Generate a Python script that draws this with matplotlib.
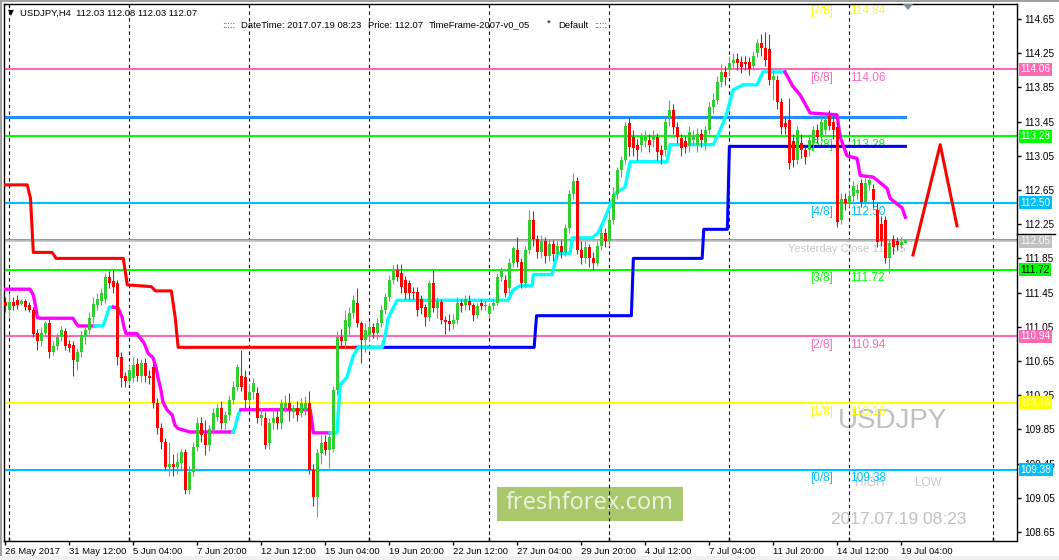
import numpy as np
import matplotlib.pyplot as plt
import matplotlib.transforms as mtransforms
from matplotlib.patches import Rectangle, Polygon

plt.rcParams['font.family'] = ['Liberation Sans', 'DejaVu Sans']

# ## Chart data: USDJPY H4, bar index 5 = 26 May 2017 20:00, bar 230 = 19 Jul 08:00
first_bar = 5

opens = [
    111.34, 111.25, 111.34, 111.36, 111.32, 111.35, 111.31, 111.25, 110.98, 110.88,
    110.98, 111.10, 110.76, 110.82, 110.93, 111.00, 110.85, 110.84, 110.64, 110.76,
    110.93, 111.01, 111.16, 111.31, 111.35, 111.38, 111.63, 111.58, 111.56, 110.70,
    110.47, 110.42, 110.45, 110.62, 110.47, 110.63, 110.48, 110.58, 110.16, 109.87,
    109.70, 109.41, 109.45, 109.41, 109.46, 109.58, 109.14, 109.35, 109.64, 109.92,
    109.80, 109.67, 109.84, 110.00, 110.10, 109.92, 110.02, 110.19, 110.35, 110.47,
    110.46, 110.19, 110.29, 110.27, 109.98, 109.98, 109.69, 109.92, 110.00, 109.92,
    110.10, 110.16, 110.05, 110.10, 110.04, 110.08, 110.16, 109.38, 109.06, 109.57,
    109.70, 109.61, 109.62, 110.31, 110.93, 110.88, 111.05, 111.21, 111.33, 111.09,
    110.90, 110.95, 111.05, 110.98, 111.10, 111.25, 111.40, 111.60, 111.71, 111.68,
    111.60, 111.56, 111.46, 111.46, 111.38, 111.28, 111.16, 111.56, 111.27, 111.34,
    111.13, 111.12, 111.08, 111.13, 111.33, 111.31, 111.35, 111.30, 111.19, 111.33,
    111.29, 111.20, 111.29, 111.33, 111.63, 111.60, 111.50, 111.80, 111.95, 111.81,
    111.56, 111.95, 112.30, 112.08, 111.92, 112.05, 111.88, 112.02, 111.90, 112.00,
    111.92, 112.20, 112.60, 112.75, 111.95, 111.85, 111.98, 111.85, 111.80, 112.00,
    112.15, 112.05, 112.30, 112.60, 112.88, 113.00, 113.43, 113.27, 113.18, 113.18,
    113.22, 113.23, 113.23, 113.27, 113.12, 113.12, 113.50, 113.59, 113.39, 113.26,
    113.22, 113.17, 113.24, 113.18, 113.30, 113.20, 113.35, 113.62, 113.70, 113.91,
    114.03, 114.05, 114.14, 114.18, 114.15, 114.15, 114.15, 114.10, 114.25, 114.37,
    114.31, 114.30, 113.94, 113.94, 113.68, 113.43, 113.47, 113.22, 113.00, 113.20,
    113.12, 113.12, 113.20, 113.35, 113.29, 113.35, 113.52, 113.45, 113.39, 112.30,
    112.55, 112.50, 112.58, 112.62, 112.73, 112.51, 112.71, 112.66, 112.42, 112.25,
    112.30, 111.85, 112.08, 112.05, 112.01, 112.03]
highs = [
    111.40, 111.44, 111.40, 111.42, 111.37, 111.38, 111.34, 111.28, 111.02, 111.05,
    111.12, 111.14, 110.88, 110.98, 111.06, 111.04, 110.90, 110.88, 110.80, 111.00,
    111.05, 111.22, 111.40, 111.45, 111.50, 111.68, 111.70, 111.71, 111.60, 110.75,
    110.52, 110.60, 110.70, 110.68, 110.67, 110.68, 110.55, 110.62, 110.22, 109.92,
    109.75, 109.70, 109.56, 109.58, 109.62, 109.62, 109.42, 109.70, 110.00, 110.00,
    109.96, 109.90, 110.10, 110.15, 110.18, 110.06, 110.25, 110.42, 110.62, 110.78,
    110.55, 110.38, 110.45, 110.35, 110.10, 110.05, 109.98, 110.10, 110.10, 110.20,
    110.25, 110.28, 110.14, 110.18, 110.22, 110.24, 110.30, 109.45, 109.62, 109.78,
    109.78, 109.82, 110.36, 111.00, 111.02, 111.25, 111.28, 111.42, 111.50, 111.12,
    111.10, 111.12, 111.10, 111.15, 111.30, 111.45, 111.65, 111.77, 111.78, 111.79,
    111.64, 111.60, 111.52, 111.52, 111.42, 111.32, 111.60, 111.71, 111.40, 111.38,
    111.18, 111.20, 111.20, 111.40, 111.38, 111.42, 111.42, 111.33, 111.33, 111.38,
    111.35, 111.33, 111.38, 111.68, 111.75, 111.65, 111.85, 112.00, 112.10, 111.85,
    112.00, 112.42, 112.40, 112.12, 112.12, 112.10, 112.08, 112.06, 112.05, 112.06,
    112.25, 112.65, 112.85, 112.80, 112.05, 112.05, 112.02, 111.92, 112.05, 112.22,
    112.20, 112.40, 112.68, 112.92, 113.05, 113.45, 113.50, 113.35, 113.25, 113.32,
    113.35, 113.30, 113.35, 113.32, 113.18, 113.50, 113.70, 113.65, 113.45, 113.30,
    113.28, 113.40, 113.35, 113.38, 113.36, 113.40, 113.68, 113.78, 113.98, 114.12,
    114.10, 114.22, 114.25, 114.25, 114.22, 114.22, 114.20, 114.28, 114.42, 114.47,
    114.50, 114.48, 114.05, 114.00, 113.72, 113.50, 113.72, 113.30, 113.40, 113.30,
    113.18, 113.30, 113.40, 113.42, 113.50, 113.52, 113.58, 113.52, 113.45, 112.62,
    112.62, 112.65, 112.76, 112.72, 112.78, 112.80, 112.83, 112.72, 112.50, 112.35,
    112.35, 112.08, 112.12, 112.10, 112.10, 112.08]
lows = [
    111.22, 111.16, 111.25, 111.26, 111.30, 111.25, 111.22, 110.93, 110.78, 110.83,
    110.95, 110.68, 110.72, 110.78, 110.88, 110.78, 110.76, 110.47, 110.55, 110.70,
    110.85, 110.97, 111.10, 111.25, 111.30, 111.33, 111.50, 111.45, 110.60, 110.35,
    110.35, 110.38, 110.40, 110.42, 110.40, 110.40, 110.38, 110.10, 109.80, 109.62,
    109.38, 109.30, 109.30, 109.33, 109.38, 109.10, 109.10, 109.30, 109.60, 109.70,
    109.55, 109.60, 109.80, 109.95, 109.85, 109.85, 109.96, 110.15, 110.30, 110.30,
    110.10, 110.12, 110.20, 109.92, 109.90, 109.62, 109.62, 109.85, 109.85, 109.85,
    110.05, 109.95, 109.98, 109.95, 110.00, 110.02, 109.33, 108.95, 108.82, 109.45,
    109.55, 109.40, 109.58, 110.25, 110.80, 110.80, 110.95, 111.15, 111.05, 110.63,
    110.75, 110.88, 110.92, 110.90, 111.05, 111.20, 111.35, 111.55, 111.58, 111.45,
    111.38, 111.38, 111.38, 111.18, 111.20, 111.06, 111.12, 111.22, 111.15, 111.08,
    110.96, 111.00, 111.02, 111.08, 111.22, 111.25, 111.25, 111.12, 111.15, 111.25,
    111.25, 111.15, 111.25, 111.30, 111.58, 111.40, 111.45, 111.75, 111.75, 111.50,
    111.52, 111.90, 112.00, 111.85, 111.85, 111.80, 111.82, 111.82, 111.84, 111.85,
    111.88, 112.15, 112.55, 111.90, 111.78, 111.80, 111.75, 111.72, 111.76, 111.95,
    111.98, 112.00, 112.25, 112.55, 112.80, 112.95, 113.05, 113.05, 113.00, 113.10,
    113.15, 113.10, 113.15, 113.00, 112.95, 113.05, 113.40, 113.30, 113.20, 113.05,
    113.08, 113.10, 113.18, 113.10, 113.15, 113.12, 113.30, 113.55, 113.65, 113.85,
    113.88, 113.98, 114.08, 114.05, 114.02, 114.05, 114.00, 114.05, 114.20, 114.22,
    114.10, 113.88, 113.70, 113.60, 113.30, 113.30, 112.90, 112.92, 112.95, 113.02,
    112.95, 113.05, 113.12, 113.20, 113.22, 113.30, 113.35, 113.25, 112.22, 112.25,
    112.42, 112.45, 112.52, 112.55, 112.45, 112.48, 112.65, 112.45, 111.98, 112.00,
    111.80, 111.68, 111.90, 111.95, 111.97, 112.03]
closes = [
    111.29, 111.34, 111.29, 111.30, 111.35, 111.28, 111.25, 110.96, 110.88, 110.98,
    111.10, 110.76, 110.83, 110.93, 111.01, 110.82, 110.80, 110.66, 110.76, 110.95,
    111.01, 111.15, 111.32, 111.37, 111.45, 111.63, 111.56, 111.52, 110.70, 110.45,
    110.42, 110.55, 110.60, 110.48, 110.63, 110.47, 110.45, 110.16, 109.87, 109.70,
    109.41, 109.45, 109.41, 109.47, 109.58, 109.14, 109.35, 109.64, 109.92, 109.78,
    109.67, 109.85, 110.04, 110.10, 109.92, 110.02, 110.19, 110.35, 110.58, 110.35,
    110.19, 110.29, 110.39, 109.98, 110.02, 109.67, 109.92, 109.98, 109.92, 110.16,
    110.16, 110.08, 110.10, 110.02, 110.16, 110.16, 109.38, 109.06, 109.57, 109.69,
    109.61, 109.76, 110.31, 110.93, 110.88, 111.13, 111.21, 111.36, 111.09, 110.90,
    111.01, 111.05, 110.98, 111.10, 111.25, 111.40, 111.60, 111.71, 111.63, 111.52,
    111.45, 111.45, 111.44, 111.25, 111.27, 111.16, 111.56, 111.27, 111.35, 111.13,
    111.11, 111.08, 111.13, 111.33, 111.29, 111.37, 111.30, 111.19, 111.29, 111.29,
    111.31, 111.29, 111.33, 111.63, 111.71, 111.45, 111.80, 111.97, 111.81, 111.56,
    111.95, 112.30, 112.08, 111.92, 112.05, 111.88, 112.02, 111.90, 112.00, 111.92,
    112.20, 112.60, 112.75, 111.95, 111.85, 111.98, 111.85, 111.80, 112.00, 112.15,
    112.05, 112.30, 112.60, 112.88, 113.00, 113.40, 113.15, 113.14, 113.12, 113.27,
    113.27, 113.18, 113.29, 113.10, 113.06, 113.45, 113.59, 113.39, 113.27, 113.14,
    113.15, 113.33, 113.28, 113.30, 113.24, 113.35, 113.62, 113.70, 113.91, 114.03,
    113.97, 114.14, 114.17, 114.13, 114.09, 114.12, 114.07, 114.22, 114.37, 114.31,
    114.17, 113.94, 113.98, 113.68, 113.39, 113.39, 112.97, 113.00, 113.35, 113.12,
    113.04, 113.23, 113.35, 113.27, 113.45, 113.47, 113.40, 113.35, 112.28, 112.55,
    112.50, 112.58, 112.70, 112.65, 112.51, 112.73, 112.77, 112.53, 112.04, 112.05,
    111.85, 112.03, 111.98, 112.01, 112.04, 112.07]

# time axis (bar index of each label)
time_bars = [4.9, 21, 37, 53, 69, 85, 101, 117, 133, 149, 165, 181, 197, 213, 229]
time_labels = ['26 May 2017', '31 May 12:00', '5 Jun 04:00', '7 Jun 20:00',
               '12 Jun 12:00', '15 Jun 04:00', '19 Jun 20:00', '22 Jun 12:00',
               '27 Jun 04:00', '29 Jun 20:00', '4 Jul 12:00', '7 Jul 04:00',
               '11 Jul 20:00', '14 Jul 12:00', '19 Jul 04:00']
week_bars = [6, 36, 66, 96, 126, 156, 186, 216, 252]
price_ticks = [108.65, 109.05, 109.45, 109.85, 110.25, 110.65, 111.05, 111.45,
               111.85, 112.25, 112.65, 113.05, 113.45, 113.85, 114.25, 114.65]

# slow trend line (red = down, blue = up)
slow_down_bars = [5, 10.5, 11.3, 12, 16.7, 17.7, 34.5, 35.5, 41.5, 42.5, 46.5, 47.5, 48.2, 93]
slow_down_vals = [112.71, 112.71, 112.55, 111.92, 111.92, 111.85, 111.85, 111.54, 111.52,
                  111.47, 111.47, 111.15, 110.81, 110.81]
slow_up_bars = [93, 137.2, 137.8, 161.5, 162, 179.2, 179.6, 185.5, 186, 230]
slow_up_vals = [110.81, 110.81, 111.18, 111.18, 111.85, 111.85, 112.19, 112.19, 113.16, 113.16]

# fast trend line (magenta = down, cyan = up)
fast_bars = [5, 11.2, 12, 12.4, 12.7, 13, 13.7, 21.9, 22.7, 23.2, 27.4,
             29.4, 30.2, 31, 32,
             33.2, 34.2, 34.7, 35.2, 37.9, 38.7, 39.7, 40.7, 41.9, 42.7, 43.2, 43.9,
             44.4, 45.4, 46.7, 47.4, 48.2, 51.2, 61.9,
             62.4, 63.2, 63.9,
             81.2, 81.7, 82, 86.2,
             87.9, 88.7, 90.4, 91.9, 93.2, 99.2, 99.9, 100.7, 102.9, 130.7, 131.9,
             133.7, 136.7, 137, 141.7, 143, 146.2, 146.7, 151.7, 153.2, 154.7, 156,
             157.7, 159.9, 161.2, 170.4, 171.2, 182, 183.7, 185.4, 186.9, 189.4,
             192.9, 194.4, 199.9,
             201.9, 203.7, 206.2, 212.9, 213.7, 215.4, 217.9, 218.7, 222, 225.4,
             226.2, 229.2, 230]
fast_vals = [111.49, 111.49, 111.42, 111.33, 111.25, 111.16, 111.15, 111.15, 111.09, 111.06, 111.06,
             111.06, 111.16, 111.28, 111.28,
             111.27, 111.16, 111.04, 110.97, 110.97, 110.92, 110.86, 110.74, 110.69, 110.57, 110.45, 110.31,
             110.17, 110.08, 110.02, 109.90, 109.86, 109.82, 109.82,
             109.87, 110.02, 110.08,
             110.08, 109.93, 109.81, 109.81,
             109.81, 110.37, 110.46, 110.70, 110.81, 110.81, 110.93, 111.15, 111.36, 111.36, 111.48,
             111.53, 111.53, 111.66, 111.66, 111.91, 111.91, 112.09, 112.09, 112.15, 112.30, 112.45,
             112.62, 112.68, 112.98, 112.98, 113.18, 113.18, 113.35, 113.55, 113.82, 113.88,
             113.88, 114.03, 114.03,
             113.86, 113.76, 113.55, 113.53, 113.27, 113.05, 113.02, 112.82, 112.80, 112.67,
             112.55, 112.44, 112.33]
fast_turns = [27.4, 32, 61.9, 63.9, 86.2, 199.9]

# Murrey math levels
mm_names = ['[7/8]', '[6/8]', '[5/8]', '[4/8]', '[3/8]', '[2/8]', '[1/8]', '[0/8]']
mm_levels = [114.84, 114.06, 113.28, 112.50, 111.72, 110.94, 110.16, 109.38]
mm_colors = ['#FFFF00', '#FF69B4', '#00FF00', '#00BFFF', '#00FF00', '#FF69B4', '#FFFF00', '#00BFFF']
mm_text = ['white', 'white', 'white', 'white', 'black', 'white', 'white', 'white']

yesterday_close = 112.05
bid_line = 112.07
resistance = 113.50
resistance_end = 230
zigzag_bars = [231.9, 238.7, 242.9]
zigzag_vals = [111.89, 113.18, 112.23]

bull = '#32CD32'
bear = '#FF0000'
small = 6.8

W, H = 1059, 560
fig = plt.figure(figsize=(W / 100, H / 100), dpi=100)
ax = fig.add_axes([4 / W, 19 / H, 1013 / W, 537 / H])
ax.set_xlim(4.675, 257.9)
ax.set_ylim(108.545, 114.825)
for s in ax.spines.values():
    s.set_color('black')
    s.set_linewidth(1)

# weekly grid
for b in week_bars:
    ax.axvline(b, color='black', lw=0.8, ls=(0, (3, 3)), zorder=1)

# levels
for lvl, col in zip(mm_levels, mm_colors):
    ax.axhline(lvl, color=col, lw=1.5, zorder=2)
ax.axhline(bid_line, color='#808080', lw=1.1, zorder=2)
ax.axhline(yesterday_close, color='#C0C0C0', lw=1.1, zorder=2)
ax.plot([ax.get_xlim()[0], resistance_end], [resistance, resistance],
        color='#1E90FF', lw=2.2, zorder=2)

# level captions
for name, lvl, col in zip(mm_names, mm_levels, mm_colors):
    ax.annotate(name, (206.2, lvl), xytext=(0, -2), textcoords='offset points',
                va='top', ha='left', color=col, fontsize=8.5,
                zorder=2.5, annotation_clip=False)
    ax.annotate(f'{lvl:.2f}', (216.2, lvl), xytext=(0, -2), textcoords='offset points',
                va='top', ha='left', color=col, fontsize=8.5,
                zorder=2.5, annotation_clip=False)
ax.annotate(f'Yesterday Close {yesterday_close:.2f}', (200.7, yesterday_close),
            xytext=(0, -2), textcoords='offset points', va='top', ha='left',
            color='#C8C8C8', fontsize=8, zorder=2.5)

# trend lines
ax.plot(slow_down_bars, slow_down_vals, color='#FF0000', lw=2.2, zorder=3)
ax.plot(slow_up_bars, slow_up_vals, color='#0000FF', lw=2.2, zorder=3)

fb = np.array(fast_bars)
fv = np.array(fast_vals)
edges = [fb[0]] + fast_turns + [fb[-1]]
for k in range(len(edges) - 1):
    m = (fb >= edges[k]) & (fb <= edges[k + 1])
    col = '#00FFFF' if k % 2 == 1 else '#FF00FF'
    ax.plot(fb[m], fv[m], color=col, lw=2.4, zorder=4)

# candles
o = np.array(opens)
h = np.array(highs)
l = np.array(lows)
c = np.array(closes)
bars = np.arange(first_bar, first_bar + len(o))
cols = np.where(c >= o, bull, bear)
ax.vlines(bars, l, h, colors=cols, lw=0.75, zorder=5)
ax.bar(bars, np.maximum(np.abs(c - o), 0.012), bottom=np.minimum(o, c),
       width=0.75, color=cols, linewidth=0, zorder=5.1)

# drawn zigzag
ax.plot(zigzag_bars, zigzag_vals, color='#FF0000', lw=2.2, zorder=5.2)

# axes ticks
ax.yaxis.tick_right()
ax.set_yticks(price_ticks)
ax.set_yticklabels([f'{p:.2f}' for p in price_ticks])
ax.tick_params(axis='y', length=3, width=1, pad=2.5, labelsize=7.2, colors='black')
ax.set_xticks(time_bars)
ax.set_xticklabels(time_labels, ha='left')
ax.tick_params(axis='x', length=3, width=1, pad=1, labelsize=small)
ax.set_xticks(week_bars, minor=True)
ax.tick_params(axis='x', which='minor', direction='in', length=3, width=1)

# price boxes on the right
trans = mtransforms.blended_transform_factory(ax.transAxes, ax.transData)
for lvl, col, tc in zip(mm_levels[1:], mm_colors[1:], mm_text[1:]):
    ax.text(1.0035, lvl, f'{lvl:.2f}', transform=trans, fontsize=7.2, color=tc,
            va='center', ha='left', clip_on=False, zorder=6,
            bbox=dict(boxstyle='square,pad=0.15', fc=col, ec='none'))
ax.plot([1.0, 1.038], [112.14, 112.14], transform=trans, color='black', lw=1,
        clip_on=False, zorder=5.9)
ax.text(1.0035, yesterday_close, f'{yesterday_close:.2f}', transform=trans, fontsize=7.2,
        color='white', va='center', ha='left', clip_on=False, zorder=6,
        bbox=dict(boxstyle='square,pad=0.15', fc='#C0C0C0', ec='none'))

# watermark and logo (window pixel positions)
def px(x, y):
    return x / W, 1 - y / H

tf = fig.transFigure
ax.add_patch(Rectangle(px(497, 521), 186 / W, 34 / H, transform=tf, fc='#A9C76B',
                       ec='none', zorder=0.5, clip_on=False))
ax.text(*px(590, 503), 'freshforex.com', transform=tf, ha='center', va='center',
        fontsize=17, color='#EEF3E2', family='Open Sans', zorder=0.6)
ax.text(*px(893, 421), 'USDJPY', transform=tf, ha='center', va='center',
        fontsize=20, color='#C0C0C0', zorder=0.6)
ax.text(*px(870, 483), 'HIGH', transform=tf, ha='center', va='center',
        fontsize=8.5, color='#C8C8C8', zorder=0.6)
ax.text(*px(928, 483), 'LOW', transform=tf, ha='center', va='center',
        fontsize=8.5, color='#C8C8C8', zorder=0.6)
ax.text(*px(899, 520), '2017.07.19 08:23', transform=tf, ha='center', va='center',
        fontsize=12.5, color='#C0C0C0', zorder=0.6)
ax.add_patch(Polygon([px(903, 4), px(913, 4), px(908, 10)], closed=True,
                     transform=tf, fc='#7F8C99', ec='none', zorder=7, clip_on=False))

# header
fig.text(*px(8, 13), '▼', fontsize=5.5, va='center', ha='left', family='DejaVu Sans')
fig.text(*px(20, 13), 'USDJPY,H4  112.03 112.08 112.03 112.07', fontsize=small,
         va='center', ha='left')
fig.text(*px(222, 25), ':::::', fontsize=small, va='center', ha='left', color='#7030A0')
fig.text(*px(241, 25), 'DateTime: 2017.07.19 08:23', fontsize=small, va='center', ha='left')
fig.text(*px(368, 25), 'Price: 112.07', fontsize=small, va='center', ha='left')
fig.text(*px(429, 25), 'TimeFrame-2007-v0_05', fontsize=small, va='center', ha='left')
fig.text(*px(547, 23), '*', fontsize=small, va='center', ha='left')
fig.text(*px(558, 25), 'Default', fontsize=small, va='center', ha='left')
fig.text(*px(594, 25), ':::::', fontsize=small, va='center', ha='left', color='#7030A0')

# window frame
fig.patches.append(Rectangle((0, 1 - 2 / H), 1, 2 / H, transform=tf, fc='#A0A0A0', ec='none'))
fig.patches.append(Rectangle((0, 0), 2 / W, 1, transform=tf, fc='#A0A0A0', ec='none'))
fig.patches.append(Rectangle((0, 0), 1, 4 / H, transform=tf, fc='#F0F0F0', ec='none'))

fig.savefig('out.png', dpi=100)
